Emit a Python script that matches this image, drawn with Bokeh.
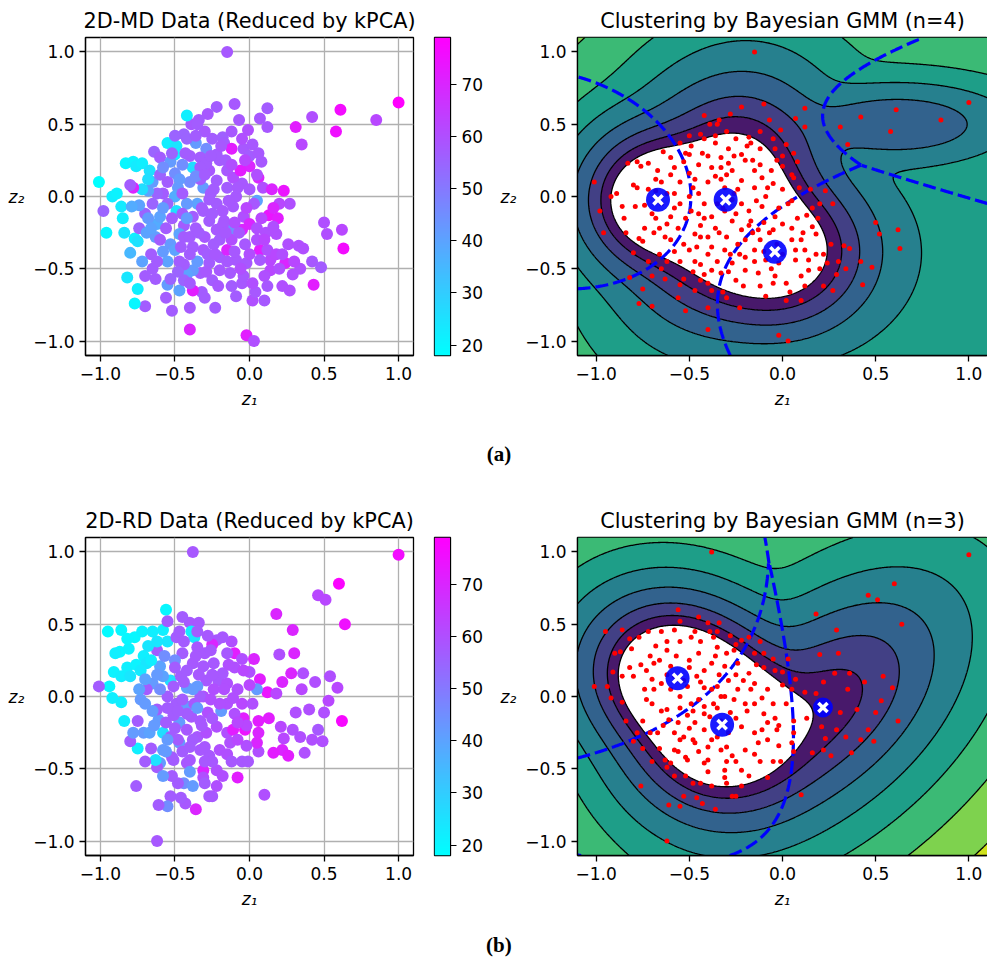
import numpy as np
import contourpy
from bokeh.plotting import figure
from bokeh.layouts import row, column
from bokeh.models import LinearColorMapper, FixedTicker, Range1d, ColumnDataSource
from bokeh.core.properties import value
from bokeh.embed import file_html
from bokeh.resources import INLINE
from bokeh.palettes import Viridis256

# ---------------- data: panel (a) ----------------
title_a_left = "2D-MD Data (Reduced by kPCA)"
title_a_right = "Clustering by Bayesian GMM (n=4)"
xa = [-0.15, -0.10, -0.22, -0.28, -0.34, -0.39, -0.44, -0.42, -0.07, -0.01,
      0.07, 0.12, -0.18, -0.17, -0.12, -0.04, 0.00, 0.00, 0.08, 0.06,
      0.09, -0.05, 0.05, 0.03, 0.31, 0.42, 0.61, 0.58, 0.35, 0.85,
      1.00, 0.23, 0.27, 0.13, 0.19, 0.11, 0.50, 0.52, 0.62, 0.63,
      0.26, 0.33, 0.36, 0.42, 0.48, 0.34, 0.29, 0.24, 0.14, 0.14,
      0.07, 0.05, -0.03, -0.05, -0.13, 0.43, 0.22, 0.27, 0.10, 0.02,
      0.04, -0.09, -0.05, -0.02, 0.03, -0.23, -0.32, -0.38, -0.40, -0.40,
      -0.52, -0.47, -0.55, -0.53, -0.63, -0.70, -0.77, -0.75, -0.82, -0.66,
      -0.80, -0.96, -0.98, -1.01, -0.92, -0.89, -0.86, -0.85, -0.84, -0.77,
      -0.75, -0.74, -0.69, -0.63, -0.62, -0.60, -0.70, -0.74, -0.79, -0.83,
      -0.78, -0.76, -0.72, -0.67, -0.64, -0.60, -0.55, -0.49, -0.50, -0.38,
      -0.53, -0.50, -0.48, -0.50, -0.49, -0.55, -0.58, -0.62, -0.65, -0.68,
      -0.72, -0.78, -0.80, -0.36, -0.29, -0.31, -0.35, -0.38, -0.44, -0.47,
      -0.53, -0.50, -0.44, -0.38, -0.31, -0.24, -0.20, -0.27, -0.33, -0.38,
      -0.42, -0.44, -0.20, -0.13, -0.09, -0.15, -0.22, -0.27, -0.31, -0.22,
      -0.18, -0.11, -0.09, -0.15, -0.22, -0.27, -0.20, -0.22, -0.33, -0.29,
      -0.15, -0.11, -0.06, -0.04, 0.00, 0.12, 0.18, 0.16, -0.02, 0.07,
      -0.04,
      -0.26, -0.33, -0.40, -0.42, -0.45, -0.36, -0.30, -0.25, -0.17, -0.12,
      -0.07, -0.20, -0.28, -0.35, -0.40, -0.47, -0.55, -0.58, -0.60, -0.56,
      -0.52, -0.45, -0.40, -0.33, -0.40, -0.45, -0.25, -0.30, -0.12, -0.05,
      0.02, 0.05, 0.00, -0.02, 0.08, 0.05, -0.10, -0.15, 0.00, 0.10,
      0.18, 0.20, 0.12, -0.12, -0.25, -0.30, -0.44, -0.65, -0.72, -0.68,
      -0.65, -0.60, -0.55, -0.58, -0.42, -0.16, -0.08, 0.15, 0.20, -0.35,
      -0.32, -0.27, -0.18, -0.14, -0.24, -0.36, -0.43, -0.50, -0.46, -0.40,
      -0.34, -0.29, -0.21, -0.16, -0.06, 0.02, 0.10, 0.16, 0.22, 0.30,
      -0.58, -0.52, -0.47, -0.62, -0.70, -0.66, -0.26, -0.19, -0.12, -0.03,
      -0.36, -0.42, -0.30, -0.23, -0.10, 0.06, 0.12, -0.48, -0.56, -0.68]
ya = [1.00, 0.64, 0.62, 0.57, 0.53, 0.50, 0.43, 0.56, 0.53, 0.46,
      0.54, 0.61, 0.41, 0.37, 0.33, 0.33, 0.28, 0.21, 0.24, 0.13,
      0.06, 0.09, -0.03, -0.05, 0.48, 0.55, 0.60, 0.45, 0.36, 0.53,
      0.65, 0.04, -0.05, -0.13, -0.15, -0.25, -0.18, -0.26, -0.23, -0.36,
      -0.33, -0.34, -0.36, -0.45, -0.49, -0.50, -0.54, -0.46, -0.51, -0.44,
      -0.37, -0.30, -0.33, -0.23, -0.23, -0.61, -0.62, -0.65, -0.72, -0.72,
      -0.66, -0.69, -0.60, -0.96, -1.00, -0.77, -0.66, -0.65, -0.77, -0.92,
      -0.79, -0.65, -0.61, -0.57, -0.57, -0.76, -0.74, -0.64, -0.56, -0.40,
      -0.39, -0.25, -0.10, 0.10, 0.00, 0.02, -0.07, -0.15, -0.25, -0.29,
      -0.31, -0.22, -0.25, -0.28, -0.19, -0.14, -0.12, -0.06, -0.07, 0.23,
      0.24, 0.21, 0.23, 0.18, 0.31, 0.27, 0.37, 0.35, 0.29, 0.20,
      0.24, 0.16, 0.06, 0.00, -0.10, -0.05, 0.02, 0.02, -0.05, 0.04,
      0.05, 0.06, 0.08, 0.37, 0.33, 0.06, -0.05, -0.14, -0.20, -0.26,
      -0.33, -0.37, -0.28, -0.35, -0.37, -0.33, -0.42, -0.46, -0.53, -0.51,
      -0.54, -0.47, -0.51, -0.53, -0.44, -0.37, -0.23, -0.17, -0.10, -0.05,
      -0.10, -0.07, 0.00, 0.06, 0.11, 0.18, 0.25, 0.29, 0.27, 0.23,
      0.18, 0.13, 0.18, -0.14, -0.19, -0.37, -0.26, -0.21, -0.46, -0.44,
      -0.55,
      0.02, 0.12, 0.10, -0.05, 0.02, -0.22, -0.28, -0.12, -0.17, -0.30,
      -0.25, -0.30, -0.40, -0.45, -0.40, -0.45, -0.45, -0.38, -0.30, -0.22,
      -0.15, -0.12, -0.28, 0.20, 0.28, 0.22, 0.40, 0.45, 0.45, 0.40,
      0.36, 0.15, 0.05, -0.08, -0.15, -0.22, -0.38, -0.45, -0.40, -0.55,
      -0.40, -0.50, -0.62, -0.62, -0.58, -0.70, -0.58, -0.50, -0.45, -0.15,
      0.10, 0.15, 0.10, -0.08, 0.40, 0.25, 0.06, 0.05, -0.05, 0.50,
      -0.08, -0.02, -0.20, -0.03, 0.05, 0.14, 0.30, 0.42, -0.35, -0.60,
      -0.25, -0.52, -0.62, -0.25, -0.50, -0.60, -0.30, -0.08, -0.40, -0.45,
      0.20, 0.30, 0.12, -0.45, -0.55, -0.22, 0.28, 0.35, 0.22, 0.25,
      0.42, -0.15, 0.15, -0.40, -0.18, 0.30, 0.48, -0.52, -0.70, 0.12]
ca = [58, 58, 57, 58, 57, 58, 55, 22, 58, 60,
      58, 57, 56, 57, 72, 58, 57, 70, 58, 70,
      60, 58, 40, 58, 72, 60, 76, 75, 62, 62,
      79, 74, 60, 74, 72, 60, 60, 60, 62, 76,
      60, 60, 60, 58, 57, 60, 60, 70, 62, 62,
      72, 60, 58, 70, 45, 72, 60, 60, 58, 60,
      58, 57, 58, 72, 60, 57, 57, 72, 58, 70,
      57, 40, 42, 55, 57, 57, 20, 22, 24, 57,
      35, 20, 55, 18, 22, 21, 23, 22, 24, 22,
      25, 55, 40, 42, 38, 40, 55, 40, 38, 20,
      21, 23, 22, 25, 55, 57, 22, 24, 22, 26,
      42, 45, 42, 38, 25, 55, 57, 55, 55, 40,
      26, 70, 57, 42, 45, 42, 40, 57, 57, 40,
      42, 40, 57, 57, 58, 57, 57, 57, 57, 42,
      40, 57, 58, 58, 58, 70, 58, 57, 57, 57,
      58, 58, 58, 57, 57, 58, 57, 57, 57, 57,
      58, 60, 72, 60, 70, 60, 60, 60, 58, 58,
      58,
      57, 57, 45, 42, 57, 57, 58, 57, 58, 60,
      58, 57, 57, 42, 57, 57, 40, 42, 57, 57,
      57, 57, 57, 57, 57, 45, 57, 58, 58, 60,
      58, 60, 58, 62, 62, 60, 58, 58, 60, 60,
      62, 60, 58, 57, 57, 57, 55, 57, 40, 42,
      42, 55, 57, 42, 55, 57, 58, 70, 62, 57,
      57, 57, 58, 58, 57, 45, 57, 55, 57, 57,
      57, 58, 58, 58, 60, 60, 62, 70, 60, 62,
      45, 55, 42, 57, 57, 40, 57, 58, 60, 62,
      57, 42, 57, 58, 60, 58, 58, 55, 57, 26]

# Bayesian GMM components read for panel (a): weight, mean, std devs, correlation
gmm_a_w = [0.24, 0.42, 0.26, 0.016]
gmm_a_mx = [-0.668, -0.305, -0.041, 0.62]
gmm_a_my = [-0.023, -0.023, -0.383, 0.50]
gmm_a_sx = [0.17, 0.22, 0.22, 0.26]
gmm_a_sy = [0.21, 0.34, 0.24, 0.12]
gmm_a_rho = [0.0, 0.15, 0.0, 0.0]
# faint wide component seen only in the outer density bands
bg_a_w = [0.01]
bg_a_mx = [0.2]
bg_a_my = [-0.4]
bg_a_sx = [0.5]
bg_a_sy = [0.5]
bg_a_rho = [0.0]

# ---------------- data: panel (b) ----------------
title_b_left = "2D-RD Data (Reduced by kPCA)"
title_b_right = "Clustering by Bayesian GMM (n=3)"
xb = [-0.38, 1.00, 0.60, 0.46, 0.51, 0.64, 0.18, 0.29, 0.20, 0.03,
      -0.10, -0.12, -0.05, 0.00, 0.07, 0.12, 0.18, 0.05, 0.22, 0.28,
      0.36, 0.44, 0.54, 0.59, 0.53, 0.50, 0.40, 0.31, 0.13, 0.06,
      -0.04, -0.03, 0.62, 0.46, 0.49, 0.34, 0.29, 0.21, 0.23, 0.22,
      0.26, 0.37, 0.16, 0.06, 0.05, -0.02, -0.05, -0.01, -0.08, -0.22,
      -0.31, -0.31, -0.25, -0.27, 0.10, -0.36, -0.43, -0.53, -0.55, -0.62,
      -0.61, -0.76, -0.44, -0.48, -0.51, -0.60, -0.62, -0.63, -0.58, -0.66,
      -0.75, -0.80, -0.71, -0.67, -0.58, -0.61, -0.62, -0.75, -0.84, -0.73,
      -0.86, -0.92, -0.94, -1.01, -0.91, -0.86, -0.82, -0.80, -0.76, -0.71,
      -0.69, -0.73, -0.87, -0.81, -0.77, -0.72, -0.95, -0.86, -0.56, -0.58,
      -0.55, -0.62, -0.60, -0.53, -0.58, -0.65, -0.69, -0.49, -0.47, -0.40,
      -0.34, -0.39, -0.37, -0.35, -0.38, -0.31, -0.24, -0.22, -0.18, -0.25,
      -0.21, -0.29, -0.35, -0.42, -0.46, -0.51, -0.49, -0.42, -0.37, -0.31,
      -0.24, -0.19, -0.15, -0.11, -0.08, -0.15, -0.28, -0.33, -0.39, -0.47,
      -0.51, -0.56, -0.53, -0.47, -0.42, -0.35, -0.29, -0.22, -0.15, -0.11,
      -0.13, -0.20, -0.27, -0.33, -0.40, -0.48, -0.42,
      -0.45, -0.50, -0.42, -0.30, -0.28, -0.15, -0.10, -0.18, -0.25, -0.33,
      -0.38, -0.45, -0.55, -0.60, -0.62, -0.68, -0.65, -0.55, -0.45, -0.35,
      -0.20, -0.10, -0.05, -0.25, -0.35, -0.42, -0.55, -0.65, -0.70, -0.55,
      -0.45, -0.38, -0.30, -0.25, -0.15, -0.08, -0.02, 0.02, 0.00, -0.30,
      -0.40, -0.52, -0.58, -0.70, -0.50, -0.18, -0.12, 0.35, 0.42, 0.30,
      -0.44, -0.36, -0.26, -0.17, -0.08, -0.32, -0.40, -0.48, -0.57, -0.66,
      -0.74, -0.78, -0.64, -0.52, -0.44, -0.34, -0.26, -0.14, -0.04, 0.06,
      -0.22, -0.30, -0.38, -0.46, -0.56, -0.62, -0.70, -0.82, -0.90, -0.50]
yb = [1.00, 0.98, 0.78, 0.70, 0.67, 0.50, 0.57, 0.46, 0.29, 0.26,
      0.30, 0.38, 0.26, 0.17, 0.12, 0.03, 0.02, 0.05, 0.10, 0.16,
      0.16, 0.10, 0.14, 0.06, -0.03, -0.11, -0.09, -0.11, -0.15, -0.17,
      -0.15, -0.23, -0.17, -0.23, -0.31, -0.28, -0.23, -0.21, -0.29, -0.37,
      -0.41, -0.39, -0.39, -0.38, -0.32, -0.34, -0.45, -0.45, -0.56, -0.51,
      -0.51, -0.56, -0.69, -0.69, -0.68, -0.78, -0.74, -0.69, -0.76, -1.00,
      -0.75, -0.62, -0.60, -0.60, -0.44, -0.46, -0.49, -0.44, -0.37, -0.36,
      -0.36, -0.31, -0.25, -0.25, -0.25, -0.16, -0.09, -0.17, -0.17, -0.02,
      -0.04, -0.01, 0.07, 0.07, 0.17, 0.14, 0.20, 0.14, 0.22, 0.28,
      0.23, 0.18, 0.31, 0.33, 0.41, 0.45, 0.45, 0.46, 0.60, 0.46,
      0.38, 0.32, 0.21, 0.11, 0.14, 0.09, 0.05, 0.41, 0.45, 0.51,
      0.51, 0.45, 0.41, 0.34, 0.23, 0.21, 0.23, 0.39, 0.41, 0.36,
      0.11, 0.11, 0.07, 0.06, 0.14, 0.07, -0.05, -0.07, -0.05, 0.00,
      0.05, -0.10, -0.05, -0.01, 0.05, 0.09, -0.11, -0.17, -0.14, -0.18,
      -0.13, -0.18, -0.28, -0.32, -0.23, -0.28, -0.25, -0.21, -0.25, -0.23,
      -0.32, -0.37, -0.41, -0.37, -0.44, -0.30, -0.46,
      0.30, 0.25, 0.18, 0.30, 0.42, 0.30, 0.20, 0.16, 0.15, 0.00,
      0.05, -0.02, 0.00, 0.05, 0.15, 0.35, 0.45, 0.52, 0.55, 0.45,
      -0.05, -0.12, -0.05, -0.15, -0.08, -0.12, -0.08, -0.10, -0.05, -0.30,
      -0.38, -0.30, -0.35, -0.45, -0.40, -0.30, -0.20, -0.05, 0.08, -0.60,
      -0.52, -0.55, -0.55, -0.45, -0.22, -0.55, -0.45, 0.05, -0.30, 0.30,
      0.38, 0.28, 0.32, 0.05, -0.18, -0.20, -0.35, -0.10, 0.28, 0.25,
      0.05, -0.25, -0.20, -0.42, 0.10, 0.15, -0.02, 0.22, 0.18, -0.25,
      -0.62, -0.45, -0.62, -0.70, -0.38, 0.38, 0.12, 0.40, 0.30, 0.20]
cb = [58, 76, 78, 62, 62, 75, 70, 70, 60, 70,
      72, 60, 60, 60, 72, 74, 62, 42, 70, 70,
      60, 60, 60, 62, 62, 60, 60, 60, 72, 72,
      72, 74, 77, 58, 60, 60, 60, 62, 62, 70,
      72, 60, 72, 60, 70, 60, 58, 58, 72, 60,
      70, 60, 58, 58, 60, 70, 58, 57, 45, 58,
      57, 57, 45, 57, 57, 42, 57, 25, 42, 57,
      22, 57, 42, 40, 26, 42, 57, 57, 22, 42,
      22, 22, 20, 57, 21, 22, 22, 24, 21, 22,
      24, 23, 20, 21, 20, 21, 19, 20, 20, 22,
      24, 57, 40, 26, 40, 42, 57, 57, 57, 58,
      58, 22, 24, 58, 58, 58, 58, 58, 58, 70,
      58, 58, 42, 40, 57, 57, 57, 42, 58, 60,
      60, 42, 60, 60, 60, 60, 60, 58, 58, 42,
      57, 57, 57, 42, 58, 58, 60, 60, 60, 72,
      60, 60, 58, 58, 58, 57, 58,
      57, 45, 57, 58, 58, 58, 60, 58, 58, 57,
      42, 57, 57, 45, 42, 24, 22, 57, 57, 57,
      60, 60, 62, 58, 42, 57, 57, 42, 42, 42,
      57, 57, 58, 58, 60, 62, 62, 60, 62, 57,
      42, 57, 42, 57, 57, 60, 58, 62, 60, 70,
      57, 58, 58, 60, 62, 58, 57, 57, 45, 22,
      40, 42, 42, 57, 57, 58, 60, 60, 62, 70,
      60, 58, 42, 57, 42, 24, 40, 20, 22, 57]

gmm_b_w = [0.36, 0.44, 0.15]
gmm_b_mx = [-0.563, -0.324, 0.217]
gmm_b_my = [0.126, -0.195, -0.076]
gmm_b_sx = [0.20, 0.21, 0.28]
gmm_b_sy = [0.23, 0.26, 0.34]
gmm_b_rho = [-0.1, 0.0, 0.5]
bg_b_w, bg_b_mx, bg_b_my, bg_b_sx, bg_b_sy, bg_b_rho = [], [], [], [], [], []

axis_ticks = [-1.0, -0.5, 0.0, 0.5, 1.0]
axis_tick_labels = ["\u22121.0", "\u22120.5", "0.0", "0.5", "1.0"]
cbar_ticks = [20, 30, 40, 50, 60, 70]
centroid_size_a = [24, 24, 24]
centroid_size_b = [24, 24, 20]

# ---------------- styling ----------------
FONT = "DejaVu Sans"
TICK_PX = "17px"
TITLE_PX = "20.8px"
c_low = min(min(ca), min(cb))
c_high = max(max(ca), max(cb))
cool = ["#%02x%02x%02x" % (int(round(255 * t)), int(round(255 * (1 - t))), 255)
        for t in np.linspace(0, 1, 256)]
mapper = LinearColorMapper(palette=cool, low=c_low, high=c_high)

levels = np.logspace(0, 2, 12)
mids = 0.5 * (levels[:-1] + levels[1:])
tnorm = np.clip(np.log(mids) / np.log(30.0), 0, 1)
band_colors = [Viridis256[min(int(t * 256), 255)] for t in tnorm]

gx = np.linspace(-1.1, 1.1, 360)
gy = np.linspace(-1.1, 1.1, 360)
GX, GY = np.meshgrid(gx, gy)


def comp_logs(w, mx, my, sx, sy, rho):
    out = []
    for k in range(len(w)):
        dx = (GX - mx[k]) / sx[k]
        dy = (GY - my[k]) / sy[k]
        r = rho[k]
        q = (dx * dx + dy * dy - 2 * r * dx * dy) / (1 - r * r)
        out.append(np.log(w[k]) - np.log(2 * np.pi * sx[k] * sy[k] * np.sqrt(1 - r * r)) - 0.5 * q)
    return np.array(out).reshape(len(w), GX.shape[0], GX.shape[1])


def style_axes(p):
    for ax in list(p.xaxis) + list(p.yaxis):
        ax.ticker = FixedTicker(ticks=axis_ticks)
        ax.major_label_overrides = {t: l for t, l in zip(axis_ticks, axis_tick_labels)}
        ax.major_label_text_font = FONT
        ax.major_label_text_font_size = TICK_PX
        ax.major_label_text_color = "black"
        ax.major_tick_out = 6
        ax.major_tick_in = 0
        ax.minor_tick_out = 0
        ax.minor_tick_in = 0
        ax.major_tick_line_color = "black"
        ax.major_tick_line_width = 1.3
        ax.axis_line_color = "black"
        ax.axis_line_width = 1.3
        ax.major_label_standoff = 5
        ax.axis_label_text_font = FONT
        ax.axis_label_text_font_size = TICK_PX
        ax.axis_label_text_font_style = "italic"
        ax.axis_label_text_color = "black"
        ax.axis_label_standoff = 6
    p.xaxis.axis_label = "z\u2081"
    p.yaxis.axis_label = "z\u2082"
    p.yaxis.axis_label_orientation = "horizontal"
    p.title.text_font = FONT
    p.title.text_font_size = TITLE_PX
    p.title.text_font_style = "normal"
    p.title.align = "center"
    p.title.text_color = "black"
    p.outline_line_color = "black"
    p.outline_line_width = 1.3
    p.outline_line_alpha = 1.0


def scatter_panel(title, xs, ys, cs):
    p = figure(width=425, height=420, title=title, x_range=Range1d(-1.1, 1.1),
               y_range=Range1d(-1.1, 1.1), toolbar_location=None, output_backend="svg",
               min_border_left=85, min_border_right=12, min_border_top=37, min_border_bottom=65)
    style_axes(p)
    for g in p.grid:
        g.ticker = FixedTicker(ticks=axis_ticks)
        g.grid_line_color = "#b0b0b0"
        g.grid_line_width = 1.3
    src = ColumnDataSource(dict(x=xs, y=ys, c=cs))
    p.scatter("x", "y", source=src, size=12, line_color=None,
              fill_color={"field": "c", "transform": mapper})
    return p


def cbar_panel():
    p = figure(width=70, height=420, x_range=Range1d(0, 1), y_range=Range1d(c_low, c_high),
               x_axis_location=None, y_axis_location="right", toolbar_location=None,
               output_backend="svg", min_border_left=9, min_border_right=45,
               min_border_top=37, min_border_bottom=65)
    p.grid.visible = False
    grad = np.linspace(c_low, c_high, 256).reshape(-1, 1)
    p.image(image=[grad], x=0, y=c_low, dw=1, dh=c_high - c_low, color_mapper=mapper)
    ax = p.yaxis[0]
    ax.ticker = FixedTicker(ticks=cbar_ticks)
    ax.major_label_text_font = FONT
    ax.major_label_text_font_size = TICK_PX
    ax.major_label_text_color = "black"
    ax.major_tick_out = 6
    ax.major_tick_in = 0
    ax.minor_tick_out = 0
    ax.minor_tick_in = 0
    ax.major_tick_line_color = "black"
    ax.axis_line_color = "black"
    ax.major_label_standoff = 5
    p.outline_line_color = "black"
    p.outline_line_width = 1.3
    return p


def gmm_panel(title, xs, ys, comps, bg, csize):
    p = figure(width=492, height=420, title=title, x_range=Range1d(-1.1, 1.1),
               y_range=Range1d(-1.1, 1.1), toolbar_location=None, output_backend="svg",
               min_border_left=82, min_border_right=0, min_border_top=37, min_border_bottom=65)
    style_axes(p)
    p.grid.visible = False
    w, mx, my, sx, sy, rho = comps
    L = comp_logs(w, mx, my, sx, sy, rho)
    Lall = np.concatenate([L, comp_logs(*bg)], axis=0) if len(bg[0]) else L
    m = Lall.max(axis=0)
    Z = -(m + np.log(np.exp(Lall - m).sum(axis=0)))
    p.contour(gx, gy, Z, levels=list(levels), fill_color=band_colors,
              line_color="black", line_width=1.3)
    # decision boundaries between every pair of components
    K = L.shape[0]
    bx, by = [], []
    for i in range(K):
        for j in range(i + 1, K):
            others = [k for k in range(K) if k not in (i, j)]
            top = np.maximum(L[i], L[j])
            g = L[i] - L[j]
            if others:
                g = np.ma.masked_where(L[others].max(axis=0) > top, g)
            else:
                g = np.ma.masked_array(g)
            gen = contourpy.contour_generator(gx, gy, g, line_type="Separate")
            for seg in gen.lines(0.0):
                if len(seg) > 1:
                    bx.append(seg[:, 0].tolist())
                    by.append(seg[:, 1].tolist())
    p.multi_line(bx, by, line_color="blue", line_width=3.2, line_dash="13 5")
    p.scatter(xs, ys, size=5, color="red", line_color=None)
    wmax = max(w)
    keep = [k for k in range(K) if w[k] > wmax / 10]
    cx = [mx[k] for k in keep]
    cy = [my[k] for k in keep]
    p.scatter(cx, cy, size=csize, fill_color="blue", line_color=None, fill_alpha=0.9)
    p.scatter(cx, cy, marker="x", size=13, line_color="white", line_width=3.5)
    return p


def caption(text, height, ypos):
    p = figure(width=987, height=height, x_range=Range1d(0, 1), y_range=Range1d(0, 1),
               x_axis_location=None, y_axis_location=None, toolbar_location=None,
               output_backend="svg", min_border=0, outline_line_color=None)
    p.grid.visible = False
    p.text(x=[0.505], y=[ypos], text=[text], text_font=value("Liberation Serif"),
           text_font_style="bold", text_font_size="21px", text_align="center",
           text_baseline="middle", text_color="black")
    return p


comps_a = (gmm_a_w, gmm_a_mx, gmm_a_my, gmm_a_sx, gmm_a_sy, gmm_a_rho)
bgs_a = (bg_a_w, bg_a_mx, bg_a_my, bg_a_sx, bg_a_sy, bg_a_rho)
comps_b = (gmm_b_w, gmm_b_mx, gmm_b_my, gmm_b_sx, gmm_b_sy, gmm_b_rho)
bgs_b = (bg_b_w, bg_b_mx, bg_b_my, bg_b_sx, bg_b_sy, bg_b_rho)

row_a = row(scatter_panel(title_a_left, xa, ya, ca), cbar_panel(),
            gmm_panel(title_a_right, xa, ya, comps_a, bgs_a, centroid_size_a))
row_b = row(scatter_panel(title_b_left, xb, yb, cb), cbar_panel(),
            gmm_panel(title_b_right, xb, yb, comps_b, bgs_b, centroid_size_b))
layout = column(row_a, caption("(a)", 80, 0.5875), row_b, caption("(b)", 46, 0.457))

open("out.html", "w").write(file_html(layout, INLINE))
